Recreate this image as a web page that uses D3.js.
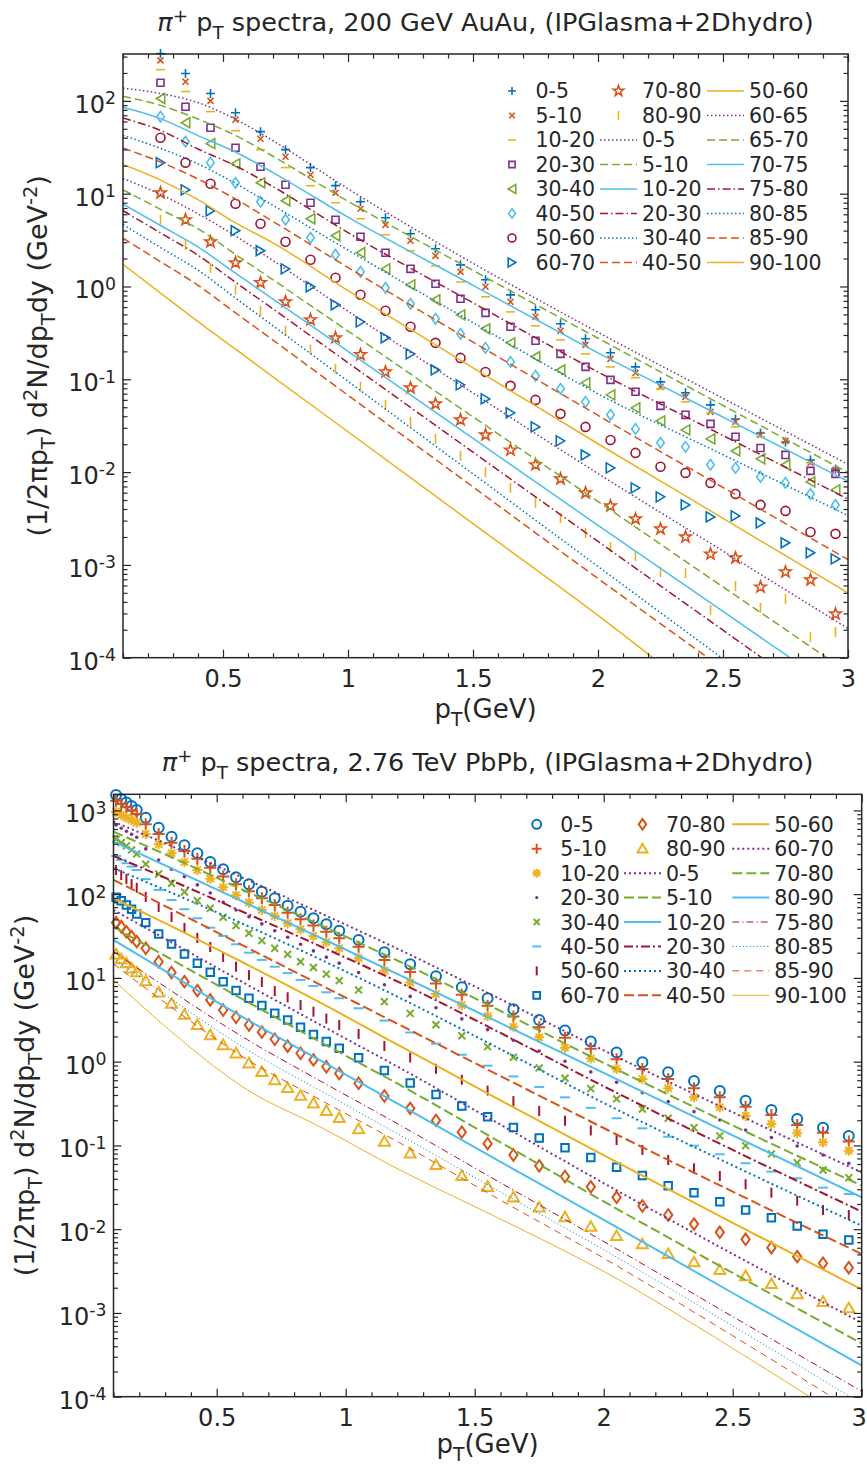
<!DOCTYPE html>
<html>
<head>
<meta charset="utf-8">
<script src="https://cdn.jsdelivr.net/npm/d3@7/dist/d3.min.js"></script>
<style>
  body { margin: 0; background: #fff; }
  svg text { font-family: "DejaVu Sans", sans-serif; fill: #262626; }
</style>
</head>
<body>
<svg id="fig" width="867" height="1467"></svg>
<script>
// pi+ pT spectra, IPGlasma + 2D hydro vs data
///

// ---- top panel: 200 GeV AuAu ----
const auPt = [0.25,0.35,0.45,0.55,0.65,0.75,0.85,0.95,1.05,1.15,1.25,1.35,1.45,1.55,1.65,1.75,1.85,1.95,2.05,2.15,2.25,2.35,2.45,2.55,2.65,2.75,2.85,2.95];
const auMarkLabels = ['0-5','5-10','10-20','20-30','30-40','40-50','50-60','60-70','70-80','80-90'];
const au05   = [323,197,120,74.6,46.6,29.8,19.1,12.2,8.20,5.51,3.70,2.55,1.71,1.18,0.813,0.561,0.396,0.273,0.193,0.136,0.0939,0.0715,0.0530,0.0374,0.0264,0.0211,0.0135,0.0108];
const au510  = [273,161,100,62.7,39.1,25.0,16.0,10.2,6.88,4.62,3.11,2.14,1.44,0.993,0.684,0.472,0.333,0.235,0.166,0.117,0.0830,0.0647,0.0446,0.0348,0.0252,0.0217,0.0126,0.0106];
const au1020 = [217,126,76.6,47.7,29.8,19.1,12.2,8.00,5.37,3.61,2.43,1.67,1.12,0.774,0.533,0.377,0.266,0.188,0.136,0.104,0.0789,0.0571,0.0435,0.0307,0.0240,0.0169,0.0126,0.0103];
const au2030 = [157,86.5,51.4,31.3,19.5,12.5,7.99,5.24,3.44,2.31,1.55,1.07,0.737,0.520,0.368,0.260,0.188,0.136,0.0986,0.0733,0.0517,0.0414,0.0331,0.0240,0.0182,0.0153,0.0103,0.00957];
const au3040 = [106,58.2,34.6,21.0,13.1,8.39,5.37,3.52,2.31,1.55,1.04,0.719,0.495,0.350,0.247,0.175,0.126,0.0916,0.0680,0.0492,0.0356,0.0285,0.0228,0.0169,0.0139,0.0120,0.00784,0.00643];
const au4050 = [67.6,36.3,21.6,13.1,8.19,5.24,3.35,2.20,1.44,0.968,0.651,0.449,0.309,0.218,0.154,0.109,0.0789,0.0571,0.0414,0.0292,0.0207,0.0187,0.0120,0.0111,0.00887,0.00765,0.00582,0.00443];
const au5060 = [40.1,21.6,12.8,7.79,4.74,3.03,1.94,1.24,0.814,0.547,0.368,0.247,0.170,0.120,0.0850,0.0600,0.0424,0.0307,0.0222,0.0161,0.0114,0.00980,0.00765,0.00582,0.00443,0.00382,0.00226,0.00216];
const au6070 = [21.6,11.0,6.55,3.99,2.43,1.55,0.993,0.635,0.416,0.280,0.188,0.126,0.0871,0.0615,0.0435,0.0307,0.0217,0.0153,0.0111,0.00676,0.00541,0.00443,0.00329,0.00337,0.00283,0.00173,0.00135,0.00116];
const au7080 = [10.2,5.24,3.03,1.80,1.10,0.684,0.438,0.280,0.184,0.120,0.0809,0.0543,0.0366,0.0252,0.0173,0.0120,0.00845,0.00597,0.00432,0.00313,0.00244,0.00200,0.00131,0.00119,0.000578,0.000839,0.000689,0.000296];
const au8090 = [5.24,2.82,1.59,0.921,0.547,0.333,0.208,0.130,0.0830,0.0531,0.0348,0.0228,0.0150,0.0100,0.00676,0.00466,0.00321,0.00221,0.00156,0.00125,0.000839,0.000818,0.000327,0.000593,0.000344,0.000430,0.000167,0.000189];

const auLinePt = [0.1,0.25,0.4,0.55,0.7,1.0,1.5,2.0,2.5,3.0];
const auLineLabels = ['0-5','5-10','10-20','20-30','30-40','40-50','50-60','60-65','65-70','70-75','75-80','80-85','85-90','90-100'];
const auH05   = [137,120,95.7,63.5,37.2,11.3,1.78,0.321,0.0624,0.0121];
const auH510  = [112,89.4,63.7,42.4,25.3,8.28,1.49,0.277,0.0522,0.00989];
const auH1020 = [85.5,64.4,42.2,28.1,16.9,5.58,1.03,0.193,0.0391,0.00794];
const auH2030 = [65.3,48.1,30.3,20.0,11.9,3.81,0.668,0.120,0.0248,0.00512];
const auH3040 = [42.4,30.8,20.9,12.9,7.48,2.46,0.408,0.0697,0.0154,0.00341];
const auH4050 = [31.0,21.9,14.4,8.75,5.02,1.60,0.252,0.0408,0.00682,0.00114];
const auH5060 = [20.6,14.0,8.63,4.85,2.95,0.902,0.133,0.0202,0.00318,0.000499];
const auH6065 = [14.6,9.82,6.07,3.50,1.90,0.541,0.0711,0.00964,0.00141,0.000206];
const auH6570 = [11.0,6.78,4.19,2.22,1.18,0.331,0.0393,0.00482,0.000579,0.0000698];
const auH7075 = [7.71,4.54,2.67,1.39,0.731,0.200,0.0231,0.00267,0.000315,0.0000371];
const auH7580 = [6.56,3.78,2.17,1.11,0.573,0.151,0.0164,0.00179,0.000198,0.0000219];
const auH8085 = [4.66,2.63,1.50,0.750,0.377,0.0951,0.00957,0.000962,0.0000973,0.00000986];
const auH8590 = [3.31,1.85,1.03,0.520,0.264,0.0673,0.00692,0.000713,0.0000762,0.00000818];
const auH90100 = [1.73,0.849,0.419,0.211,0.106,0.0272,0.00278,0.000286,0.0000254,0.00000224];

// ---- bottom panel: 2.76 TeV PbPb ----
const pbPt = [0.11,0.13,0.15,0.17,0.19,0.225,0.275,0.325,0.375,0.425,0.475,0.525,0.575,0.625,0.675,0.725,0.775,0.825,0.875,0.925,0.975,1.05,1.15,1.25,1.35,1.45,1.55,1.65,1.75,1.85,1.95,2.05,2.15,2.25,2.35,2.45,2.55,2.65,2.75,2.85,2.95];
const pbMarkLabels = ['0-5','5-10','10-20','20-30','30-40','40-50','50-60','60-70','70-80','80-90'];
const pb05   = [1528,1359,1238,1130,1012,819,622,486,384,308,242,198,159,131,107,89.3,72.9,61.8,51.5,43.7,36.6,28.4,20.2,14.6,10.5,7.73,5.71,4.22,3.15,2.36,1.74,1.29,0.984,0.747,0.589,0.447,0.342,0.265,0.207,0.163,0.130];
const pb510  = [1306,1194,1091,993,907,684,524,412,328,265,206,162,131,108,89.3,74.3,60.1,50.1,42.1,35.6,29.7,23.6,16.4,11.8,8.59,6.30,4.65,3.46,2.58,1.93,1.43,1.07,0.818,0.621,0.481,0.376,0.290,0.231,0.175,0.142,0.111];
const pb1020 = [966,883,819,769,714,524,394,308,242,194,153,121,97.1,79.2,64.7,54.9,45.0,38.1,31.7,26.7,22.6,17.2,12.2,8.80,6.43,4.73,3.50,2.61,1.95,1.47,1.09,0.818,0.621,0.481,0.376,0.286,0.225,0.180,0.140,0.109,0.0866];
const pb2030 = [670,612,564,519,478,347,256,198,162,129,103,80.0,64.7,53.8,44.1,36.6,30.6,25.2,21.0,17.7,15.0,11.6,8.30,6.01,4.40,3.24,2.41,1.80,1.34,1.01,0.755,0.568,0.427,0.333,0.253,0.201,0.153,0.124,0.0984,0.0769,0.0612];
const pb3040 = [453,412,377,337,302,228,174,135,106,83.6,67.9,53.0,42.1,34.1,27.9,22.6,19.1,15.6,13.3,11.1,9.27,7.18,5.20,3.77,2.76,2.04,1.51,1.13,0.843,0.634,0.476,0.359,0.272,0.211,0.163,0.130,0.0993,0.0791,0.0622,0.0509,0.0412];
const pb4050 = [286,256,234,213,194,151,112,85.3,66.1,51.5,39.8,31.7,25.2,20.0,16.4,13.6,11.4,9.46,8.02,6.74,5.71,4.34,3.09,2.23,1.64,1.21,0.896,0.667,0.499,0.375,0.281,0.211,0.160,0.127,0.0993,0.0784,0.0612,0.0486,0.0405,0.0313,0.0263];
const pb5060 = [194,169,152,132,119,92.6,70.3,53.5,39.5,30.0,23.4,17.8,13.6,10.8,8.95,6.98,5.87,4.75,3.95,3.26,2.74,2.14,1.54,1.12,0.822,0.608,0.452,0.338,0.258,0.197,0.151,0.116,0.0883,0.0670,0.0533,0.0432,0.0344,0.0273,0.0219,0.0169,0.0148];
const pb6070 = [91.8,83.6,74.3,66.1,58.0,45.7,33.5,25.4,19.3,15.0,11.7,9.02,7.05,5.71,4.67,3.78,3.15,2.58,2.11,1.74,1.45,1.11,0.785,0.557,0.406,0.296,0.220,0.164,0.123,0.0938,0.0716,0.0548,0.0436,0.0330,0.0273,0.0213,0.0169,0.0137,0.0109,0.00869,0.00743];
const pb7080 = [45.7,40.9,35.6,31.1,27.1,22.6,15.6,11.6,9.02,7.05,5.46,4.14,3.39,2.74,2.25,1.85,1.53,1.26,1.05,0.869,0.723,0.552,0.389,0.277,0.199,0.144,0.105,0.0769,0.0570,0.0426,0.0320,0.0240,0.0189,0.0148,0.0115,0.00918,0.00757,0.00601,0.00470,0.00392,0.00347];
const pb8090 = [19.1,16.7,15.0,13.0,11.7,9.14,6.70,4.93,3.64,2.74,2.08,1.58,1.26,0.957,0.757,0.604,0.485,0.392,0.318,0.259,0.213,0.157,0.111,0.0802,0.0585,0.0432,0.0321,0.0240,0.0182,0.0139,0.0107,0.00830,0.00661,0.00506,0.00403,0.00326,0.00276,0.00222,0.00168,0.00136,0.00114];

const pbLinePt = [0.1,0.3,0.62,0.9,1.21,1.6,1.99,2.5,3.0];
const pbLineLabels = ['0-5','5-10','10-20','20-30','30-40','40-50','50-60','60-70','70-80','80-90','75-80','80-85','85-90','90-100'];
const pbH05   = [734,404,148,59.8,21.6,5.57,1.41,0.249,0.0477];
const pbH510  = [557,299,106,43.0,15.6,4.03,1.00,0.173,0.0331];
const pbH1020 = [424,221,76.4,30.3,10.8,2.88,0.760,0.132,0.0240];
const pbH2030 = [286,157,58.0,24.0,8.77,2.20,0.527,0.0883,0.0162];
const pbH3040 = [204,112,41.7,16.7,5.77,1.41,0.333,0.0578,0.0110];
const pbH4050 = [148,72.1,22.8,8.33,2.74,0.673,0.167,0.0281,0.00505];
const pbH5060 = [89.3,45.2,14.3,5.09,1.54,0.346,0.0791,0.0119,0.00191];
const pbH6070 = [64.7,29.3,8.24,2.77,0.841,0.177,0.0369,0.00506,0.000765];
const pbH7080 = [40.9,18.3,5.16,1.73,0.527,0.109,0.0223,0.00300,0.000432];
const pbH8090 = [28.4,12.1,3.15,1.04,0.304,0.0637,0.0135,0.00173,0.000236];
const pbH7580 = [20.6,7.84,1.82,0.592,0.175,0.0358,0.00743,0.000904,0.000116];
const pbH8085 = [17.3,6.32,1.38,0.454,0.133,0.0278,0.00592,0.000700,0.0000825];
const pbH8590 = [14.7,5.06,1.05,0.352,0.107,0.0222,0.00470,0.000535,0.0000597];
const pbH90100 = [9.46,2.64,0.459,0.167,0.0509,0.0132,0.00326,0.000378,0.0000397];

// matlab colour order
const C = {blue:'#0072BD', orange:'#D95319', yellow:'#EDB120', purple:'#7E2F8E', green:'#77AC30', cyan:'#4DBEEE', red:'#A2142F'};
const markColors = [C.blue, C.orange, C.yellow, C.purple, C.green, C.cyan, C.red, C.blue, C.orange, C.yellow];
const lineColors = [C.purple, C.green, C.cyan, C.red, C.blue, C.orange, C.yellow, C.purple, C.green, C.cyan, C.red, C.blue, C.orange, C.yellow];
const lineStyles = ['dot','dash','solid','dashdot','dot','dash','solid','dot','dash','solid','dashdot','dot','dash','solid'];

const svg = d3.select('#fig');
const defs = svg.append('defs');

function dashFor(style, w) {
	if (style === 'dot') return w >= 2 ? '2,3' : w >= 1.5 ? '1.5,2.5' : '1,2.5';
	if (style === 'dash') return w >= 2 ? '10,4' : w >= 1.5 ? '8,4' : '7,5';
	if (style === 'dashdot') return w >= 2 ? '9,3,2,3' : w >= 1.5 ? '8,3,1.5,3' : '7,3,1.2,3';
	return null;
}

function markerPath(type, s) {
	switch (type) {
		case 'plus': return `M${-s},0H${s}M0,${-s}V${s}`;
		case 'cross': { const a = s*0.72; return `M${-a},${-a}L${a},${a}M${-a},${a}L${a},${-a}`; }
		case 'asterisk': { const a = s*0.72; return `M${-s},0H${s}M0,${-s}V${s}M${-a},${-a}L${a},${a}M${-a},${a}L${a},${-a}`; }
		case 'hbar': return `M${-s},0H${s}`;
		case 'vbar': return `M0,${-s}V${s}`;
		case 'square': { const a = s*0.78; return `M${-a},${-a}H${a}V${a}H${-a}Z`; }
		case 'circle': return `M${s},0A${s},${s} 0 1,1 ${-s},0A${s},${s} 0 1,1 ${s},0Z`;
		case 'point': { const r = s; return `M${r},0A${r},${r} 0 1,1 ${-r},0A${r},${r} 0 1,1 ${r},0Z`; }
		case 'diamond': return `M0,${-s*1.25}L${s*0.9},0L0,${s*1.25}L${-s*0.9},0Z`;
		case 'triLeft': return `M${-s*0.85},0L${s*0.85},${-s}L${s*0.85},${s}Z`;
		case 'triRight': return `M${s*0.85},0L${-s*0.85},${-s}L${-s*0.85},${s}Z`;
		case 'triUp': return `M0,${-s}L${s},${s*0.75}L${-s},${s*0.75}Z`;
		case 'star': {
			const pts = d3.range(10).map(k => {
				const r = k % 2 ? s*0.4 : s, a = -Math.PI/2 + k*Math.PI/5;
				return [r*Math.cos(a), r*Math.sin(a)];
			});
			return 'M' + pts.map(p => p[0].toFixed(2) + ',' + p[1].toFixed(2)).join('L') + 'Z';
		}
	}
}

// text with super/subscripts
function richText(parent, x, y, parts, size, anchor, rotate) {
	const t = parent.append('text').attr('x', x).attr('y', y)
		.attr('font-size', size).attr('text-anchor', anchor || 'start');
	if (rotate) t.attr('transform', `rotate(${rotate},${x},${y})`);
	let shift = 0;
	parts.forEach(p => {
		const s = p.sup ? -0.36*size : p.sub ? 0.3*size : 0;
		const sp = t.append('tspan').text(p.t)
			.attr('font-size', (p.sup || p.sub) ? size*0.72 : size)
			.attr('dy', s - shift);
		if (p.it) sp.attr('font-style', 'italic');
		shift = s;
	});
	return t;
}

function drawPanel(p) {
	const g = svg.append('g');
	const x = d3.scaleLinear().domain([0.1, 3]).range([p.left, p.right]);
	const y = d3.scaleLog().domain([1e-4, p.yMax]).range([p.bottom, p.top]);

	defs.append('clipPath').attr('id', 'clip-' + p.id).append('rect')
		.attr('x', p.left).attr('y', p.top)
		.attr('width', p.right - p.left).attr('height', p.bottom - p.top);

	// data points
	p.markers.forEach((vals, i) => {
		const filled = p.shapes[i] === 'point';
		g.append('g').selectAll('path')
			.data(p.markPt.map((t, j) => [t, vals[j]]))
			.join('path')
			.attr('transform', d => `translate(${x(d[0])},${y(d[1])})`)
			.attr('d', markerPath(p.shapes[i], p.sizes[i]))
			.attr('fill', filled ? markColors[i] : 'none')
			.attr('stroke', filled ? 'none' : markColors[i])
			.attr('stroke-width', p.markWidth);
	});

	// hydro curves
	const line = d3.line().x(d => x(d[0])).y(d => y(d[1])).curve(d3.curveMonotoneX);
	const lg = g.append('g').attr('clip-path', `url(#clip-${p.id})`);
	p.lines.forEach((vals, i) => {
		lg.append('path')
			.datum(p.linePt.map((t, j) => [t, vals[j]]))
			.attr('d', line)
			.attr('fill', 'none')
			.attr('stroke', lineColors[i])
			.attr('stroke-width', p.lineWidths[i])
			.attr('stroke-dasharray', dashFor(lineStyles[i], p.lineWidths[i]));
	});

	// axes
	const xMajor = [0.5, 1, 1.5, 2, 2.5, 3];
	const xMinor = d3.range(1, 31).map(i => i/10).filter(v => !xMajor.some(m => Math.abs(m - v) < 1e-6));
	const decades = d3.range(-4, p.topDecade + 1);
	const yMinor = [];
	decades.forEach(e => d3.range(2, 10).forEach(m => { const v = m*Math.pow(10, e); if (v < p.yMax) yMinor.push(v); }));

	const ax = g.append('g').attr('color', '#262626');
	function put(axis, tx, ty) {
		const a = ax.append('g').attr('transform', `translate(${tx},${ty})`).call(axis);
		a.select('.domain').remove();
		a.selectAll('line').attr('stroke-width', 1.2);
		a.attr('font-size', 24).attr('font-family', '"DejaVu Sans", sans-serif');
		return a;
	}
	const xa = put(d3.axisBottom(x).tickValues(xMajor).tickSize(-8).tickPadding(12.5).tickFormat(d3.format('')), 0, p.bottom);
	// keep the last label inside the page
	xa.selectAll('.tick text').filter(d => d === 3).attr('dx', p.lastDx);
	put(d3.axisBottom(x).tickValues(xMinor).tickSize(-4.5).tickFormat(() => ''), 0, p.bottom);
	put(d3.axisTop(x).tickValues(xMajor).tickSize(-8).tickFormat(() => ''), 0, p.top);
	put(d3.axisTop(x).tickValues(xMinor).tickSize(-4.5).tickFormat(() => ''), 0, p.top);
	put(d3.axisLeft(y).tickValues(decades.map(e => Math.pow(10, e))).tickSize(-8).tickFormat(() => ''), p.left, 0);
	put(d3.axisLeft(y).tickValues(yMinor).tickSize(-4.5).tickFormat(() => ''), p.left, 0);
	put(d3.axisRight(y).tickValues(decades.map(e => Math.pow(10, e))).tickSize(-8).tickFormat(() => ''), p.right, 0);
	put(d3.axisRight(y).tickValues(yMinor).tickSize(-4.5).tickFormat(() => ''), p.right, 0);

	decades.forEach(e => {
		richText(g, p.left - 7, y(Math.pow(10, e)) + 12, [{t: '10'}, {t: String(e), sup: true}], 24, 'end');
	});

	g.append('rect').attr('x', p.left).attr('y', p.top)
		.attr('width', p.right - p.left).attr('height', p.bottom - p.top)
		.attr('fill', 'none').attr('stroke', '#262626').attr('stroke-width', 1.5);

	// titles and labels
	const cx = (p.left + p.right)/2;
	richText(g, cx, p.titleY, [{t: 'π', it: true}, {t: '+', sup: true}, {t: ' p'}, {t: 'T', sub: true}, {t: p.title}], 25.5, 'middle');
	richText(g, cx, p.xlabY, [{t: 'p'}, {t: 'T', sub: true}, {t: '(GeV)'}], 26, 'middle');
	richText(g, p.ylabX, (p.top + p.bottom)/2,
		[{t: '(1/2πp'}, {t: 'T', sub: true}, {t: ') d'}, {t: '2', sup: true}, {t: 'N/dp'}, {t: 'T', sub: true}, {t: 'dy (GeV'}, {t: '-2', sup: true}, {t: ')'}],
		27, 'middle', -90);

	// legend: 8 rows, column-major
	const items = p.markers.map((_, i) => ({kind: 'm', i: i, label: p.markLabels[i]}))
		.concat(p.lines.map((_, i) => ({kind: 'l', i: i, label: p.lineLabels[i]})));
	items.forEach((it, k) => {
		const col = Math.floor(k/8), row = k % 8;
		const sx = p.legX[col], yy = p.legY + row*p.legDy;
		if (it.kind === 'm') {
			const filled = p.shapes[it.i] === 'point';
			g.append('path').attr('transform', `translate(${sx + 18.5},${yy})`)
				.attr('d', markerPath(p.shapes[it.i], p.legSizes[it.i]))
				.attr('fill', filled ? markColors[it.i] : 'none')
				.attr('stroke', filled ? 'none' : markColors[it.i])
				.attr('stroke-width', p.markWidth);
		} else {
			g.append('line').attr('x1', sx).attr('x2', sx + 37).attr('y1', yy).attr('y2', yy)
				.attr('stroke', lineColors[it.i]).attr('stroke-width', p.lineWidths[it.i])
				.attr('stroke-dasharray', dashFor(lineStyles[it.i], p.lineWidths[it.i]));
		}
		g.append('text').attr('x', sx + 42).attr('y', yy).attr('dy', '0.365em')
			.attr('font-size', 20.5).text(it.label);
	});
}

drawPanel({
	id: 'au', left: 123, right: 848, top: 54, bottom: 657.7, yMax: 320, topDecade: 2, lastDx: 0,
	markPt: auPt, markers: [au05, au510, au1020, au2030, au3040, au4050, au5060, au6070, au7080, au8090],
	markLabels: auMarkLabels,
	shapes: ['plus','cross','hbar','square','triLeft','diamond','circle','triRight','star','vbar'],
	sizes: [4.5, 4.2, 4.5, 4.5, 5, 4.2, 4.5, 5, 6, 5],
	legSizes: [4, 3.8, 4, 4, 4.5, 3.8, 4, 4.5, 5.5, 4.5],
	markWidth: 1.6,
	linePt: auLinePt,
	lines: [auH05, auH510, auH1020, auH2030, auH3040, auH4050, auH5060, auH6065, auH6570, auH7075, auH7580, auH8085, auH8590, auH90100],
	lineLabels: auLineLabels,
	lineWidths: [1.5,1.5,1.5,1.5,1.5,1.5,1.5,1.5,1.5,1.5,1.5,1.5,1.5,1.5],
	title: ' spectra, 200 GeV AuAu, (IPGlasma+2Dhydro)', titleY: 31, xlabY: 718, ylabX: 47,
	legX: [493.5, 600, 707], legY: 91, legDy: 24.5
});

drawPanel({
	id: 'pb', left: 113.5, right: 861.7, top: 794.3, bottom: 1396.7, yMax: 1556, topDecade: 3, lastDx: -3,
	markPt: pbPt, markers: [pb05, pb510, pb1020, pb2030, pb3040, pb4050, pb5060, pb6070, pb7080, pb8090],
	markLabels: pbMarkLabels,
	shapes: ['circle','plus','asterisk','point','cross','hbar','vbar','square','diamond','triUp'],
	sizes: [5, 6, 5, 1.8, 4.8, 5, 5, 4.8, 4.6, 5.5],
	legSizes: [4.5, 5, 4.5, 1.6, 4.2, 4.5, 4.5, 4.3, 4.2, 5],
	markWidth: 2,
	linePt: pbLinePt,
	lines: [pbH05, pbH510, pbH1020, pbH2030, pbH3040, pbH4050, pbH5060, pbH6070, pbH7080, pbH8090, pbH7580, pbH8085, pbH8590, pbH90100],
	lineLabels: pbLineLabels,
	lineWidths: [2,2,2,2,2,2,2,2,2,2,1,1,1,1],
	title: ' spectra, 2.76 TeV PbPb, (IPGlasma+2Dhydro)', titleY: 771, xlabY: 1453, ylabX: 34,
	legX: [518.2, 624, 732.3], legY: 824.3, legDy: 24.43
});
</script>
</body>
</html>
